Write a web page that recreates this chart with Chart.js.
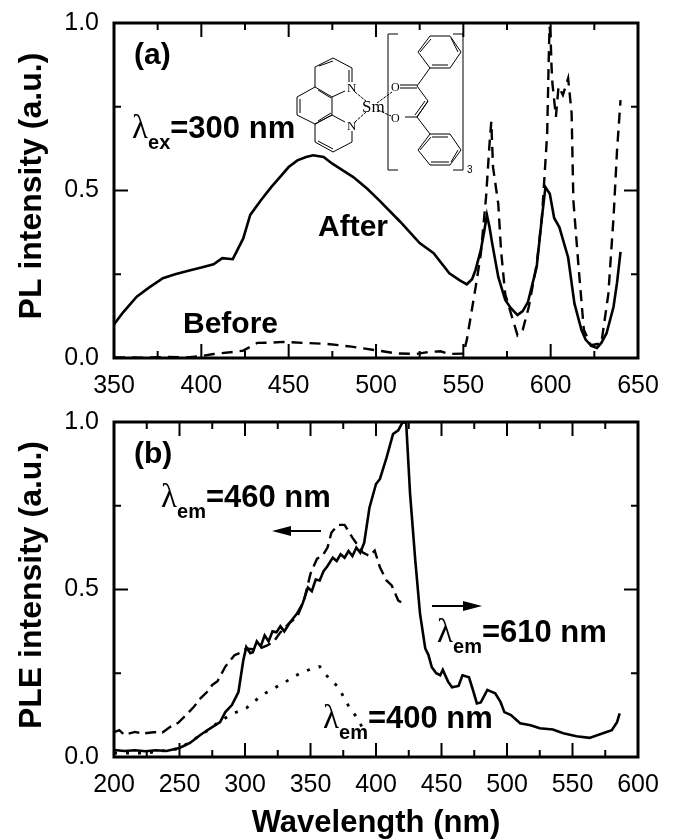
<!DOCTYPE html>
<html>
<head>
<meta charset="utf-8">
<script src="https://cdn.jsdelivr.net/npm/chart.js@4"></script>
<style>
  html, body { margin: 0; padding: 0; background: #fff; }
  #wrap { position: relative; width: 674px; height: 840px; overflow: hidden; font-family: "Liberation Sans", Arial, sans-serif; color: #000; }
  canvas { position: absolute; left: 0; }
  #inset { position: absolute; left: 0; top: 0; pointer-events: none; }
  .note { position: absolute; font-weight: bold; font-size: 30px; line-height: 30px; white-space: nowrap; }
  .note.em { font-size: 31px; }
  .note .l { font-family: "Liberation Serif", serif; font-weight: normal; font-size: 33px; }
  .note .s { font-size: 20px; position: relative; top: 11px; }
</style>
</head>
<body>
<div id="wrap">
  <canvas id="plotA"></canvas>
  <canvas id="plotB"></canvas>
  <svg id="inset" width="674" height="840" fill="none" stroke="#000" stroke-width="1">
    <!-- phenanthroline -->
    <path d="M315 67L333 58L352 68L352 82M345 91L332 97L315 87L315 67M315 87L297 97L297 115L315 124L332 115L332 97M315 124L332 115L345 122M352 131L352 142L333 152L315 142L315 124"/>
    <path d="M319 66L333 61M349 70L349 82M318 90L331 98M300 99L300 113M318 121L331 113M318 141L333 149"/>
    <path d="M355 92L366 101M355 122L366 112M377 103L392 92M378 110L391 116" stroke-dasharray="3 1"/>
    <!-- brackets -->
    <path d="M398 34H388V170H398M453 34H463V170H453"/>
    <!-- dbm ligand -->
    <path d="M400 85H417M400 88H417M417 86L428 101L417 117H405M425 101L415 115M428 101L417 117M417 86L430 68M417 117L430 134"/>
    <path d="M430 68H450L461 52L450 36H430L418 52ZM432 65H448M451 38L458 52M420 52L431 39"/>
    <path d="M430 134H450L461 150L450 165H430L418 150ZM432 137H448M458 150L451 162M431 162H449M420 150L431 137"/>
    <!-- arrows -->
    <path d="M288 531H321M432 606H465" stroke-width="2"/>
    <path d="M272 531L291 526V536ZM482 606L463 601V611Z" fill="#000" stroke="none"/>
    <g fill="#000" stroke="none" font-family="Liberation Serif, serif">
      <text x="347" y="92" font-size="13">N</text>
      <text x="347" y="130" font-size="13">N</text>
      <text x="362" y="112" font-size="17">Sm</text>
      <text x="391" y="91" font-size="12">O</text>
      <text x="391" y="122" font-size="12">O</text>
      <text x="467" y="173" font-size="10" font-family="Liberation Sans, sans-serif">3</text>
    </g>
  </svg>
  <div class="note" style="left:134px;top:39px">(a)</div>
  <div class="note em" style="left:132px;top:112px"><span class="l">λ</span><span class="s">ex</span>=300 nm</div>
  <div class="note" style="left:318px;top:211px">After</div>
  <div class="note" style="left:183px;top:308px">Before</div>
  <div class="note" style="left:134px;top:438px">(b)</div>
  <div class="note em" style="left:161px;top:481px"><span class="l">λ</span><span class="s">em</span>=460 nm</div>
  <div class="note em" style="left:437px;top:616px"><span class="l">λ</span><span class="s">em</span>=610 nm</div>
  <div class="note em" style="left:323px;top:702px"><span class="l">λ</span><span class="s">em</span>=400 nm</div>
</div>
<script>
// panel (a) PL spectra
const afterX = [350,355,363,370,378,385,392,400,407,412,418,424,428,434,440,445,450,455,460,464,470,475,481,487,495,502,514,525,533,542,548,552,555,557,560,562,563.5,565,566.5,570,574,577,581,584,587,592,595,597,599.5,602,605,610,613.6,617.6,620,623.3,626.5,629,632,636,638,640];
const afterY = [0.10,0.135,0.183,0.21,0.238,0.25,0.26,0.27,0.28,0.298,0.295,0.357,0.427,0.47,0.51,0.54,0.57,0.59,0.60,0.605,0.60,0.58,0.56,0.54,0.505,0.47,0.406,0.343,0.313,0.253,0.232,0.22,0.235,0.263,0.322,0.38,0.427,0.39,0.343,0.242,0.173,0.15,0.128,0.14,0.167,0.272,0.42,0.51,0.49,0.418,0.39,0.30,0.163,0.084,0.055,0.036,0.03,0.045,0.074,0.153,0.225,0.317];
const beforeX = [350,365,380,392,400,407,418,424,432,440,447,459,472,486,499,511,523,530,537,542,550,552,557,560,563,565,566,567,570,571.6,574,578,581,584,587.5,592,595,598,599,599.4,600,600.5,601,603,604.5,607,610,612,613,616,619,623,629,633,636,638,640];
const beforeY = [0.002,0.001,0.003,0.002,0.006,0.012,0.018,0.022,0.045,0.046,0.048,0.045,0.042,0.034,0.024,0.014,0.012,0.018,0.02,0.012,0.013,0.054,0.21,0.31,0.48,0.64,0.705,0.57,0.46,0.32,0.19,0.12,0.068,0.084,0.153,0.28,0.42,0.67,0.92,0.99,0.95,0.87,0.82,0.72,0.81,0.785,0.835,0.73,0.47,0.27,0.084,0.038,0.044,0.19,0.42,0.62,0.77];

// panel (b) PLE spectra
const em610X = [200,208,216,224,232,240,250,258,265.6,272,281,285,290,295,298.7,301,304,306,309,312,315,318,321,324,327,330,334,337,340,344,348,351,354,357,360,363,367,370,373,376,379,382,385,388,391,395,400,403,408,413,417,420,423,426,430,433.6,437.6,440,442.6,446,449,451,455,458,463,466,471,474,477,480,485,488,491,495,498,503,510,518,525,535,543,553,563,571,580,584,586];
const em610Y = [0.021,0.018,0.02,0.017,0.02,0.018,0.027,0.042,0.065,0.082,0.104,0.134,0.155,0.194,0.289,0.328,0.31,0.313,0.345,0.33,0.363,0.345,0.375,0.372,0.39,0.375,0.40,0.415,0.43,0.458,0.506,0.495,0.53,0.527,0.555,0.57,0.595,0.585,0.605,0.595,0.615,0.60,0.625,0.61,0.64,0.744,0.815,0.83,0.893,0.964,0.975,0.997,1.0,0.786,0.586,0.428,0.324,0.305,0.268,0.25,0.244,0.26,0.225,0.208,0.212,0.244,0.238,0.2,0.16,0.163,0.2,0.195,0.19,0.165,0.134,0.125,0.101,0.095,0.086,0.082,0.071,0.062,0.057,0.068,0.08,0.104,0.13];
const em460X = [200,204,208,216,222,230,237,243,249,255,261,266,271,275,279,285,292,296,301,309,317,322,327,334,340,345,350,355,359,363,366,371,376,382,390,395,399,403,408,412,417,421];
const em460Y = [0.074,0.08,0.066,0.075,0.07,0.074,0.073,0.09,0.102,0.125,0.15,0.175,0.194,0.215,0.226,0.27,0.304,0.31,0.324,0.32,0.333,0.345,0.372,0.40,0.42,0.467,0.547,0.592,0.60,0.625,0.67,0.693,0.693,0.655,0.61,0.60,0.616,0.566,0.527,0.512,0.467,0.458];
const em400X = [200,225,250,270,280,291,301,313,329,342,350,357,364,371,379.5,385,391.6];
const em400Y = [0.012,0.012,0.025,0.075,0.105,0.13,0.146,0.185,0.22,0.25,0.262,0.27,0.235,0.21,0.149,0.12,0.074];

const toPoints = (xs, ys) => xs.map((x, i) => ({ x: x, y: ys[i] }));

// inward ticks on all four sides plus the heavy frame
const frame = {
  id: 'frame',
  afterDraw(chart) {
    const { ctx, chartArea: a, scales } = chart;
    ctx.save();
    ctx.strokeStyle = '#000';
    ctx.lineWidth = 2;
    ctx.beginPath();
    scales.x.ticks.forEach(t => {
      const px = scales.x.getPixelForValue(t.value), len = t.label ? 14 : 7;
      ctx.moveTo(px, a.bottom); ctx.lineTo(px, a.bottom - len);
      ctx.moveTo(px, a.top); ctx.lineTo(px, a.top + len);
    });
    scales.y.ticks.forEach(t => {
      const py = scales.y.getPixelForValue(t.value), len = t.label ? 14 : 7;
      ctx.moveTo(a.left, py); ctx.lineTo(a.left + len, py);
      ctx.moveTo(a.right, py); ctx.lineTo(a.right - len, py);
    });
    ctx.stroke();
    ctx.lineWidth = 3;
    ctx.strokeRect(a.left, a.top, a.right - a.left, a.bottom - a.top);
    ctx.restore();
  }
};

function makePlot(id, top, height, xMin, xMax, yTitle, xTitle, datasets, topPad, xSize) {
  const el = document.getElementById(id);
  el.style.top = top + 'px';
  el.style.width = '674px';
  el.style.height = height + 'px';
  el.width = 674; el.height = height;
  new Chart(el, {
    type: 'scatter',
    data: { datasets: datasets },
    plugins: [frame],
    options: {
      responsive: false,
      animation: false,
      layout: { padding: { left: 13, right: 36, top: topPad, bottom: 0 } },
      plugins: { legend: { display: false }, tooltip: { enabled: false } },
      elements: { point: { radius: 0 }, line: { tension: 0, borderColor: '#000', borderWidth: 2.6 } },
      scales: {
        x: {
          type: 'linear', min: xMin, max: xMax,
          grid: { display: false }, border: { display: false },
          afterFit: s => { s.height = xSize; },
          title: { display: !!xTitle, text: xTitle, color: '#000', font: { family: 'Liberation Sans', size: 31, weight: 'bold', lineHeight: 1.05 }, padding: { top: 0, bottom: 0 } },
          ticks: {
            stepSize: 25, autoSkip: false, maxRotation: 0, color: '#000', padding: 5,
            font: { family: 'Liberation Sans', size: 25 },
            callback: v => v % 50 === 0 ? String(v) : ''
          }
        },
        y: {
          min: 0, max: 1,
          grid: { display: false }, border: { display: false },
          afterFit: s => { s.width = 101; },
          title: { display: true, text: yTitle, color: '#000', font: { family: 'Liberation Sans', size: 32, weight: 'bold' }, padding: { top: 0, bottom: 0 } },
          ticks: {
            stepSize: 0.25, autoSkip: false, color: '#000', padding: 7,
            font: { family: 'Liberation Sans', size: 25 },
            callback: v => (v * 2) % 1 === 0 ? v.toFixed(1) : ''
          }
        }
      }
    }
  });
}

// leading nbsp nudges the rotated titles up a few px, they sit above centre in the original
makePlot('plotA', 0, 400, 350, 650, '\u00a0PL intensity (a.u.)', '', [
  { data: toPoints(afterX, afterY), showLine: true },
  { data: toPoints(beforeX, beforeY), showLine: true, borderDash: [11, 7], borderWidth: 2.4 }
], 23, 42);

makePlot('plotB', 400, 440, 200, 600, '\u00a0PLE intensity (a.u.)', 'Wavelength (nm)', [
  { data: toPoints(em610X, em610Y), showLine: true },
  { data: toPoints(em460X, em460Y), showLine: true, borderDash: [11, 6], borderWidth: 2.4 },
  { data: toPoints(em400X, em400Y), showLine: true, borderDash: [3, 9], borderWidth: 2.8 }
], 21, 83);
</script>
</body>
</html>
